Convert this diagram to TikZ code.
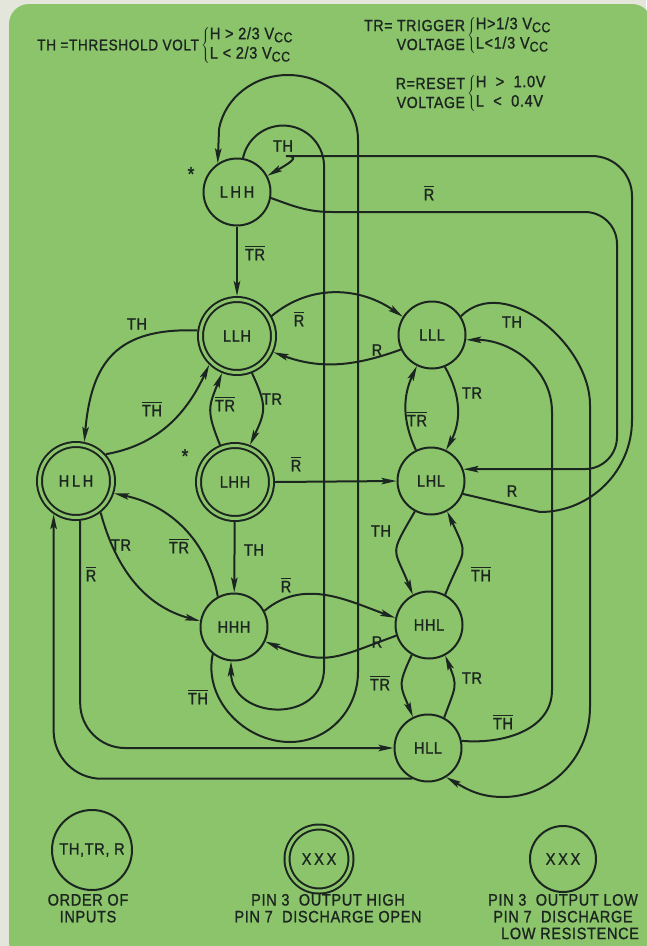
\documentclass[tikz,border=0pt]{standalone}
\usepackage{fontspec}
\setmainfont{Liberation Sans}[LetterSpace=4,FakeStretch=0.88,FakeBold=1.2]
\usetikzlibrary{arrows.meta}
\definecolor{bgGreen}{HTML}{8CC46B}
\definecolor{inkDark}{HTML}{1C2620}
\definecolor{paperEdge}{HTML}{E4E6DC}
\newcommand{\nbar}[1]{\vbox{\hrule height 1.5pt\kern1.7pt\hbox{#1}}}
\newcommand{\vcc}{V\raisebox{-3pt}{\fontsize{14}{14}\selectfont CC}}
\tikzset{
  stLow/.style={circle,draw,minimum size=67pt,inner sep=0pt,font=\fontsize{16.5}{18}\selectfont},
  stHigh/.style={stLow,double=bgGreen,double distance=3pt,minimum size=73pt,outer sep=3.5pt},
  lab/.style={font=\fontsize{16.5}{16.8}\selectfont,inner sep=1pt},
  arr/.style={-{Stealth[length=15pt,width=6.5pt,inset=3pt]}}
}
\renewcommand{\arraystretch}{1.15}

\begin{document}
\begin{tikzpicture}[x=1pt,y=1pt,line width=2pt,color=inkDark]
\useasboundingbox (0,0) rectangle (646,-946);
\fill[paperEdge] (0,0) rectangle (646,-946);
\fill[bgGreen,rounded corners=20pt] (9,-4) rectangle (652,-962);

% definitions at the top
\node[lab,anchor=east,font=\fontsize{15.5}{18}\selectfont] (thDef) at (201,-45) {TH =THRESHOLD VOLT};
\node[lab,anchor=west,inner sep=0pt] (thLev) at (200,-45)
  {$\left\{\begin{tabular}{@{}l@{}}H > 2/3 \vcc\\ L < 2/3 \vcc\end{tabular}\right.$};
\node[lab,anchor=east,align=right,font=\fontsize{16}{19}\selectfont] (trDef) at (467,-35) {TR= TRIGGER\\VOLTAGE};
\node[lab,anchor=west,inner sep=0pt] (trLev) at (466,-35)
  {$\left\{\begin{tabular}{@{}l@{}}H>1/3 \vcc\\ L<1/3 \vcc\end{tabular}\right.$};
\node[lab,anchor=east,align=right,font=\fontsize{16}{19}\selectfont] (rDef) at (467,-93) {R=RESET\hspace{15pt}\\VOLTAGE};
\node[lab,anchor=west,inner sep=0pt] (rLev) at (466,-93)
  {$\left\{\begin{tabular}{@{}l@{}}H\ \ >\ \ 1.0V\\ L\ \ <\ \ 0.4V\end{tabular}\right.$};

% states
\node[stLow]  (lhhT) at (237,-192) {L\,H\,H};
\node[stHigh] (llh)  at (237,-336) {LLH};
\node[stHigh] (lhhM) at (235,-482) {LHH};
\node[stHigh] (hlh)  at (76,-481)  {H\,L\,H};
\node[stLow]  (lll)  at (432,-335) {LLL};
\node[stLow]  (lhl)  at (431,-481) {LHL};
\node[stLow]  (hhh)  at (234,-627) {HHH};
\node[stLow]  (hhl)  at (429,-625) {HHL};
\node[stLow]  (hll)  at (428,-748) {HLL};
\node[lab,font=\fontsize{20}{20}\selectfont] (starT) at (191,-174) {*};
\node[lab,font=\fontsize{20}{20}\selectfont] (starM) at (185,-456) {*};

% long loops round the left column
\draw[arr] (lhhT.80) arc[start angle=168,end angle=0,radius=41] -- ++(0,-501)
  to[out=270,in=270,looseness=1.6] (hhh.265);
\draw[arr] (hhh.232) to[out=258,in=180] (290,-742) to[out=0,in=270] (358,-672) -- (358,-140)
  arc[start angle=0,end angle=170,x radius=70,y radius=65] -- (lhhT.124);
\draw[arr] (lhhT.-10) to[out=-20,in=180] (332,-212) [rounded corners=32pt] -- (617,-212)
  -- (617,-469) -- (lhl.20);
\draw[arr] (lhl.-22) -- (540,-512) arc[start angle=-90,end angle=0,radius=92]
  [rounded corners=40pt] -- (632,-156) -- (326,-156) [sharp corners] to[out=180,in=30] (lhhT.28);
\draw[arr] (lll.33) to[out=45,in=90] (590,-405) -- (590,-707) to[out=270,in=0] (503,-797)
  to[out=180,in=-30] (hll.-58);
\draw[arr] (hll.12) to[out=-5,in=270] (552,-690) -- (552,-412) to[out=90,in=0] (lll.-8);
\draw[arr,rounded corners=45pt] (hlh.-84) |- (hll.west);
\draw[arr,rounded corners=48pt] (hll.243) -| (hlh.236);

% transitions between neighbours
\draw[arr] (lhhT) -- (llh);
\draw[arr] (llh.30) to[out=40,in=145] (lll.148);
\draw[arr] (lll.205) to[out=200,in=-20] (llh.-24);
\draw[arr] (llh.172) to[out=178,in=85,looseness=1.3] (hlh.78);
\draw[arr] (hlh.42) to[out=10,in=245] (llh.226);
\draw[arr] (llh.-68) to[out=-65,in=65,looseness=1.3] (lhhM.68);
\draw[arr] (lhhM.112) to[out=112,in=248,looseness=1.3] (llh.248);
\draw[arr] (lhhM.east) -- (lhl.west);
\draw[arr] (lhhM) -- (hhh);
\draw[arr] (hlh.-52) to[out=-75,in=165] (hhh.170);
\draw[arr] (hhh.118) to[out=100,in=-12] (hlh.-18);
\draw[arr] (lll.-68) to[out=-60,in=62] (lhl.64);
\draw[arr] (lhl.116) to[out=115,in=245] (lll.244);
\draw[arr] (lhl.242) to[out=240,in=112,looseness=1.6] (hhl.118);
\draw[arr] (hhl.62) to[out=68,in=-65,looseness=1.6] (lhl.-62);
\draw[arr] (hhh.28) to[out=40,in=160] (hhl.168);
\draw[arr] (hhl.198) to[out=200,in=-22,looseness=1.3] (hhh.-25);
\draw[arr] (hhl.240) to[out=245,in=112,looseness=1.4] (hll.116);
\draw[arr] (hll.62) to[out=70,in=-68,looseness=1.4] (hhl.-62);

% input labels
\node[lab] (lbA1) at (283,-146) {TH};
\node[lab] (lbA2) at (255,-253) {\nbar{TR}};
\node[lab] (lbA3) at (429,-193) {\nbar{R}};
\node[lab] (lbF1) at (512,-491) {R};
\node[lab] (lbE1) at (512,-322) {TH};
\node[lab] (lbI1) at (503,-722) {\nbar{TH}};
\node[lab] (lbB1) at (299,-319) {\nbar{R}};
\node[lab] (lbE2) at (377,-350) {R};
\node[lab] (lbB2) at (137,-324) {TH};
\node[lab] (lbD1) at (152,-409) {\nbar{TH}};
\node[lab] (lbB3) at (272,-399) {TR};
\node[lab] (lbC1) at (225,-404) {\nbar{TR}};
\node[lab] (lbC2) at (296,-464) {\nbar{R}};
\node[lab] (lbC3) at (254,-550) {TH};
\node[lab] (lbD2) at (121,-545) {TR};
\node[lab] (lbG1) at (179,-546) {\nbar{TR}};
\node[lab] (lbD3) at (91,-574) {\nbar{R}};
\node[lab] (lbG2) at (198,-697) {\nbar{TH}};
\node[lab] (lbE3) at (472,-393) {TR};
\node[lab] (lbF2) at (417,-419) {\nbar{TR}};
\node[lab] (lbF3) at (381,-531) {TH};
\node[lab] (lbH1) at (481,-574) {\nbar{TH}};
\node[lab] (lbG3) at (286,-585) {\nbar{R}};
\node[lab] (lbH2) at (377,-642) {R};
\node[lab] (lbH3) at (380,-683) {\nbar{TR}};
\node[lab] (lbI2) at (472,-678) {TR};

% key
\node[stLow,minimum size=80pt] (keyIn) at (92,-850) {TH,TR, R};
\node[stHigh,minimum size=64pt] (keyHi) at (319,-859) {X\,X\,X};
\node[stLow,minimum size=66pt] (keyLo) at (563,-859) {X\,X\,X};
\node[lab,align=center,anchor=north] (keyInTx) at (88,-892) {ORDER OF\\INPUTS};
\node[lab,align=center,anchor=north] (keyHiTx) at (328,-892) {PIN 3\ \ OUTPUT HIGH\\PIN 7\ \ DISCHARGE OPEN};
\node[lab,align=center,anchor=north] (keyLoTx) at (563,-892) {PIN 3\ \ OUTPUT LOW\\PIN 7\ \ DISCHARGE\\\ \ \ LOW RESISTENCE};
\end{tikzpicture}
\end{document}
